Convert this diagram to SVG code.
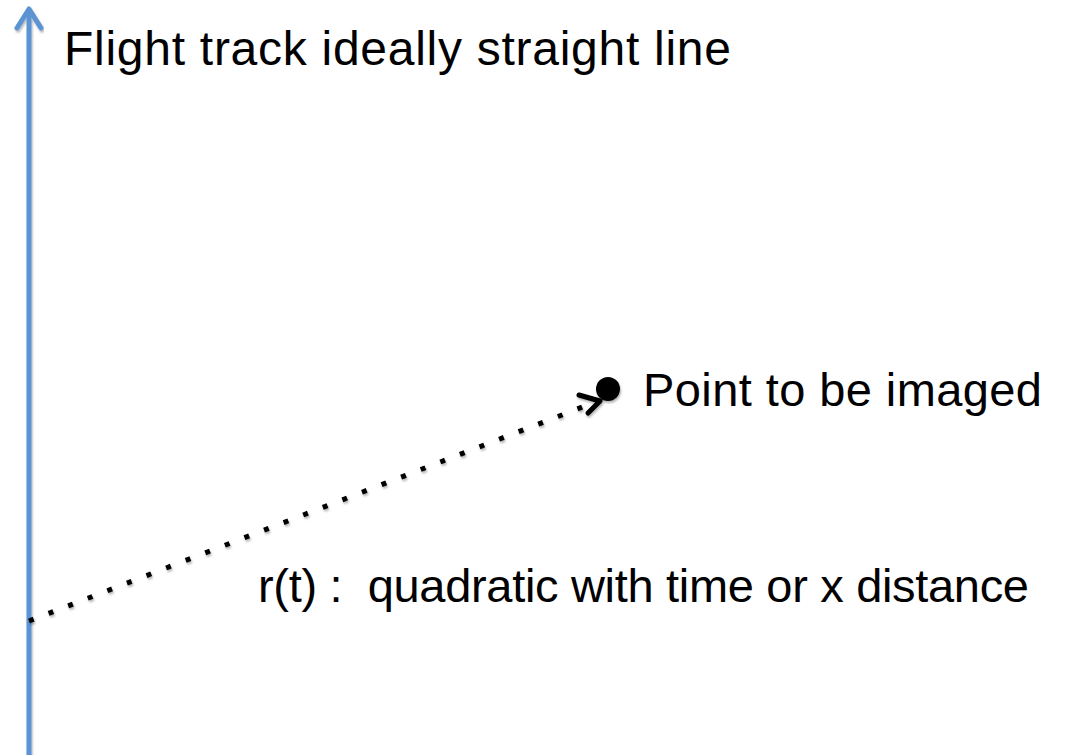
<svg xmlns="http://www.w3.org/2000/svg" width="1065" height="755" viewBox="0 0 1065 755">
<style>
.t{font-family:"Liberation Sans",Arial,sans-serif;font-size:47px;fill:#000;white-space:pre}
</style>
<defs>
<filter id="sh" x="-10%" y="-10%" width="120%" height="120%"><feDropShadow dx="1" dy="2" stdDeviation="1.2" flood-color="#000" flood-opacity="0.3"/></filter>
</defs>
<rect width="1065" height="755" fill="#fff"/>
<g id="connectors">
<g id="track" filter="url(#sh)">
<line x1="29" y1="755" x2="29" y2="10" stroke="#5B93D3" stroke-width="5"/>
<path d="M17,28 L29,9 L41,28" fill="none" stroke="#5B93D3" stroke-width="5" stroke-linecap="round" stroke-linejoin="round"/>
</g>
<g id="range" filter="url(#sh)">
<line x1="29" y1="621" x2="598" y2="401" stroke="#000" stroke-width="5" stroke-dasharray="5 16"/>
<path d="M579,395 L600,401 L588,413" fill="none" stroke="#000" stroke-width="5" stroke-linecap="round" stroke-linejoin="round"/>
</g>
</g>
<g id="point" filter="url(#sh)">
<circle cx="608" cy="389" r="12" fill="#000"/>
</g>
<g id="labels">
<text class="t" x="64" y="65" style="font-size:48px" textLength="667" lengthAdjust="spacing" xml:space="preserve">Flight track ideally straight line</text>
<text class="t" x="643" y="406" textLength="399" lengthAdjust="spacing" xml:space="preserve">Point to be imaged</text>
<text class="t" x="258" y="602" textLength="771" lengthAdjust="spacing" xml:space="preserve">r(t) :  quadratic with time or x distance</text>
</g>
</svg>
